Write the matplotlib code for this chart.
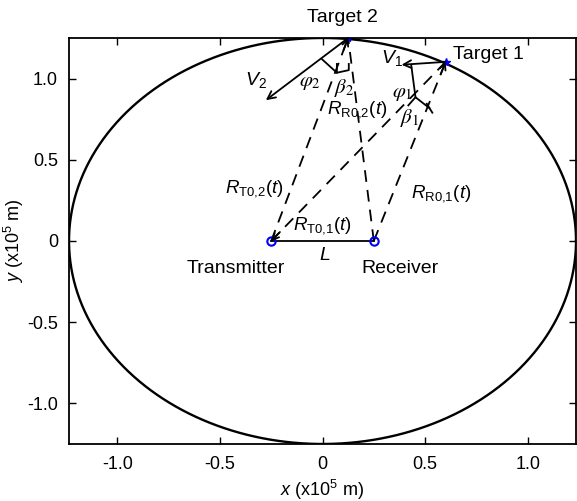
import numpy as np
import matplotlib
matplotlib.use("Agg")
import matplotlib.pyplot as plt

plt.rcParams['font.family'] = ['Liberation Sans', 'DejaVu Sans']
plt.rcParams['mathtext.fontset'] = 'custom'
plt.rcParams['mathtext.rm'] = 'Liberation Sans'
plt.rcParams['mathtext.it'] = 'Liberation Sans:italic'

# Geometry (units of 1e5 m)
transmitter = (-0.25, 0.0)
receiver = (0.25, 0.0)
target1 = (0.60, 1.103)
target2 = (0.125, 1.25)
v1_end = (0.385, 1.085)
v2_end = (-0.276, 0.867)
ellipse_a = 1.235
ellipse_b = 1.25

xticks = [-1.0, -0.5, 0, 0.5, 1.0]
yticks = [-1.0, -0.5, 0, 0.5, 1.0]
xticklabels = ['-1.0', '-0.5', '0', '0.5', '1.0']
yticklabels = ['-1.0', '-0.5', '0', '0.5', '1.0']

fig = plt.figure(figsize=(5.77, 5.01), dpi=100)
ax = fig.add_axes([0.1196, 0.1138, 0.8787, 0.8104])

# Constant-sum range ellipse
th = np.linspace(0, 2 * np.pi, 400)
ax.plot(ellipse_a * np.cos(th), ellipse_b * np.sin(th), color='black', lw=1.7)

dash = (0, (6.5, 4.5))
# Range lines from transmitter and receiver to targets
for p, q in [(transmitter, target2), (transmitter, target1),
             (receiver, target2), (receiver, target1)]:
    ax.plot([p[0], q[0]], [p[1], q[1]], color='black', lw=1.3, linestyle=dash)

def head(p, q, frac=0.06):
    # small solid arrowhead pointing from p towards q, placed at q
    s = (q[0] - frac * (q[0] - p[0]), q[1] - frac * (q[1] - p[1]))
    ax.annotate('', xy=q, xytext=s,
                arrowprops=dict(arrowstyle='->', color='black', lw=1.3,
                                mutation_scale=11, shrinkA=0, shrinkB=0))

head(transmitter, target2)
head(receiver, target1, frac=0.07)
head(target1, transmitter, frac=0.05)

# Baseline L
ax.plot([transmitter[0], receiver[0]], [transmitter[1], receiver[1]], color='black', lw=1.3)

# Velocity vectors
for t, v in [(target1, v1_end), (target2, v2_end)]:
    ax.annotate('', xy=v, xytext=t,
                arrowprops=dict(arrowstyle='->', color='black', lw=1.3,
                                mutation_scale=14, shrinkA=0, shrinkB=0))

# Angle marks at target 2
ax.plot([-0.0015, 0.07], [1.118, 1.036], color='black', lw=1.3)
ax.plot([0.07, 0.07, 0.128, 0.128], [1.09, 1.036, 1.052, 1.09], color='black', lw=1.3)
# Angle marks at target 1
ax.plot([0.432, 0.453, 0.521], [1.085, 0.885, 0.818], color='black', lw=1.3)
ax.plot([0.453, 0.418], [0.885, 0.835], color='black', lw=1.3)
ax.plot([0.508, 0.535], [0.845, 0.79], color='black', lw=1.3)

# Sites
ax.plot(*transmitter, 'o', mfc='none', mec='blue', ms=6, mew=1.5)
ax.plot(*receiver, 'o', mfc='none', mec='blue', ms=6, mew=1.5)
ax.plot(*target1, '*', color='blue', ms=6)
ax.plot(*target2, '*', color='blue', ms=6)

fs = 14
ax.text(0.098, 1.375, 'Target 2', ha='center', va='center', fontsize=fs, clip_on=False)
ax.text(0.635, 1.146, 'Target 1', ha='left', va='center', fontsize=fs)
ax.text(-0.42, -0.17, 'Transmitter', ha='center', va='center', fontsize=fs)
ax.text(0.376, -0.17, 'Receiver', ha='center', va='center', fontsize=fs)
ax.text(0.01, -0.09, '$L$', ha='center', va='center', fontsize=fs)
ax.text(-0.322, 0.992, '$V_2$', ha='center', va='center', fontsize=fs)
ax.text(0.337, 1.128, '$V_1$', ha='center', va='center', fontsize=fs)
ms = 13.5
ax.text(-0.332, 0.325, r'$R_{\mathrm{T0{,}2}}(t)$', ha='center', va='center', fontsize=ms)
ax.text(0.0, 0.097, r'$R_{\mathrm{T0{,}1}}(t)$', ha='center', va='center', fontsize=ms)
ax.text(0.576, 0.294, r'$R_{\mathrm{R0{,}1}}(t)$', ha='center', va='center', fontsize=ms)
ax.text(0.171, 0.807, r'$R_{\mathrm{R0{,}2}}(t)$', ha='center', va='center', fontsize=ms)
gs = 15
ax.text(-0.059, 0.973, r'$\varphi_2$', ha='center', va='center', fontsize=gs, math_fontfamily='stix')
ax.text(0.107, 0.943, r'$\beta_2$', ha='center', va='center', fontsize=gs, math_fontfamily='stix')
ax.text(0.388, 0.911, r'$\varphi_1$', ha='center', va='center', fontsize=gs, math_fontfamily='stix')
ax.text(0.424, 0.757, r'$\beta_1$', ha='center', va='center', fontsize=gs, math_fontfamily='stix')

ax.set_xlim(-ellipse_a, ellipse_a)
ax.set_ylim(-ellipse_b, ellipse_b)
ax.set_xticks(xticks)
ax.set_xticklabels(xticklabels)
ax.set_yticks(yticks)
ax.set_yticklabels(yticklabels)
ax.tick_params(direction='in', top=True, right=True, length=5, width=1,
               labelsize=13, pad=9)
ax.tick_params(axis='y', pad=8)
for s in ax.spines.values():
    s.set_linewidth(1.3)

ax.set_xlabel('$x$ (x10$^5$ m)', fontsize=13, labelpad=3)
ax.set_ylabel('$y$ (x10$^5$ m)', fontsize=13, labelpad=1)

fig.savefig('out.png', dpi=100)
